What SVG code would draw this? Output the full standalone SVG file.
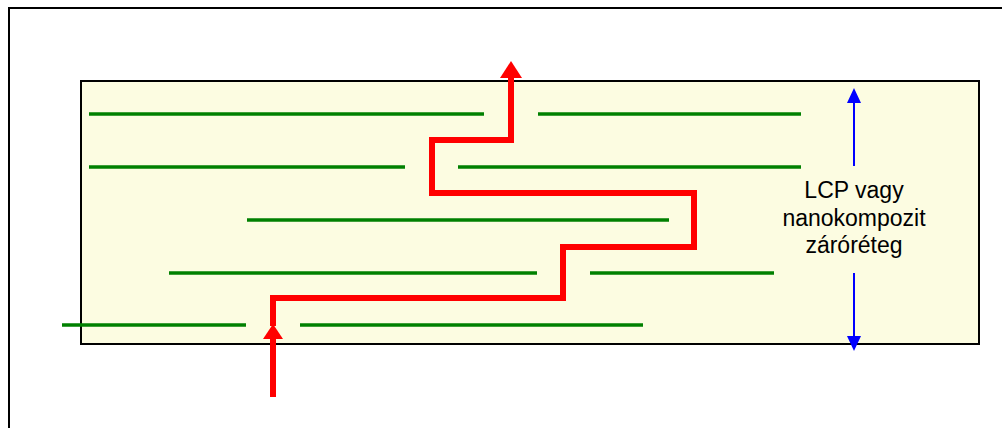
<svg xmlns="http://www.w3.org/2000/svg" width="1002" height="428" viewBox="0 0 1002 428">
  <style>
    .frame { fill: none; stroke: #000; stroke-width: 2; }
    .layer { fill: #FCFCE1; stroke: #000; stroke-width: 2; }
    .flake { stroke: #008000; stroke-width: 3.5; stroke-linecap: butt; fill: none; }
    .path { stroke: #FF0000; stroke-width: 6; fill: none; stroke-linejoin: miter; }
    .head-red { fill: #FF0000; }
    .dim { stroke: #0000FF; stroke-width: 2; fill: none; }
    .head-blue { fill: #0000FF; }
    .label { font-family: "Liberation Sans", Arial, sans-serif; font-size: 23px; fill: #000; text-anchor: middle; }
  </style>

  <rect width="1002" height="428" fill="#FFFFFF"/>
  <!-- outer frame (right and bottom edges fall outside the view) -->
  <rect class="frame" x="9" y="8" width="1010" height="440"/>

  <!-- barrier layer -->
  <g id="barrier-layer">
    <rect class="layer" x="81" y="81" width="898" height="263"/>
  </g>

  <!-- platelet fillers -->
  <g id="platelets">
    <line class="flake" x1="89" y1="114" x2="484" y2="114"/>
    <line class="flake" x1="538" y1="114" x2="801" y2="114"/>
    <line class="flake" x1="89" y1="167" x2="405" y2="167"/>
    <line class="flake" x1="458" y1="167" x2="801" y2="167"/>
    <line class="flake" x1="247" y1="220" x2="669" y2="220"/>
    <line class="flake" x1="169" y1="273" x2="537" y2="273"/>
    <line class="flake" x1="590" y1="273" x2="774" y2="273"/>
    <line class="flake" x1="62" y1="325" x2="246" y2="325"/>
    <line class="flake" x1="300" y1="325" x2="643" y2="325"/>
  </g>

  <!-- diffusion path -->
  <g id="connectors">
    <line class="path" x1="273" y1="397" x2="273" y2="336"/>
    <polygon class="head-red" points="273,324 263,339 283,339"/>
    <polyline class="path" points="273,326 273,298 563,298 563,247 694,247 694,193 432,193 432,140 511,140 511,76"/>
    <polygon class="head-red" points="511,61 500,78 522,78"/>

    <!-- thickness dimension -->
    <line class="dim" x1="854" y1="100" x2="854" y2="166"/>
    <polygon class="head-blue" points="854,88 847,103 861,103"/>
    <line class="dim" x1="854" y1="273" x2="854" y2="339"/>
    <polygon class="head-blue" points="854,351 847,336 861,336"/>
  </g>

  <g id="label">
    <text class="label" x="854" y="198">LCP vagy</text>
    <text class="label" x="854" y="226">nanokompozit</text>
    <text class="label" x="854" y="253">záróréteg</text>
  </g>
</svg>
